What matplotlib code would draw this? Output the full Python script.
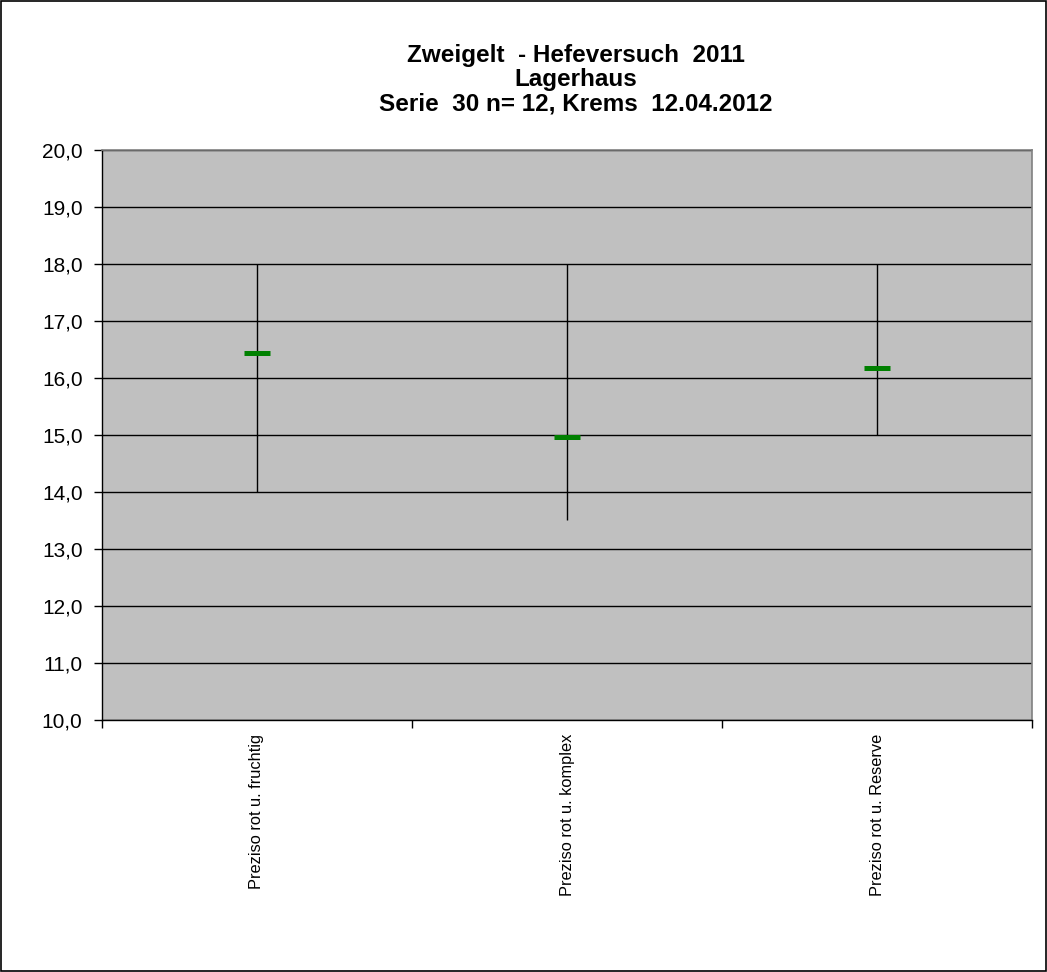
import matplotlib
matplotlib.use("Agg")
import matplotlib.pyplot as plt
from matplotlib.ticker import FuncFormatter, FixedLocator

categories = ["Preziso rot u. fruchtig", "Preziso rot u. komplex", "Preziso rot u. Reserve"]
means = [16.44, 14.97, 16.18]
mins = [14.0, 13.5, 15.0]
maxs = [18.0, 18.0, 18.0]
title_lines = ["Zweigelt  - Hefeversuch  2011", "Lagerhaus", "Serie  30 n= 12, Krems  12.04.2012"]

plt.rcParams['font.family'] = ['Liberation Sans', 'DejaVu Sans']
fig = plt.figure(figsize=(10.47, 9.72), dpi=100)
fig.patches.append(plt.Rectangle((0.001, 0.001), 0.998, 0.998, transform=fig.transFigure,
                                 fill=False, edgecolor='black', linewidth=1.2))
ax = fig.add_axes([0.0974, 0.2593, 0.8883, 0.5864])
ax.set_facecolor('#C0C0C0')

x = list(range(len(categories)))
ax.vlines(x, mins, maxs, color='black', linewidth=1, zorder=3)
ax.plot(x, means, linestyle='none', marker='_', markersize=18.5, markeredgewidth=3.6,
        color='#008000', zorder=4)

ax.set_xlim(-0.5, len(categories) - 0.5)
ax.set_ylim(10, 20)
ax.set_yticks([10 + i for i in range(11)])
ax.yaxis.set_major_formatter(FuncFormatter(lambda v, p: f"{v:.1f}".replace('.', ',')))
ax.yaxis.grid(True, color='black', linewidth=1)
ax.set_axisbelow(True)

ax.xaxis.set_major_locator(FixedLocator([-0.5, 0.5, 1.5, 2.5]))
ax.set_xticklabels([])
ax.xaxis.set_minor_locator(FixedLocator(x))
ax.set_xticklabels(categories, minor=True, rotation=90, fontsize=11.8)
ax.tick_params(axis='x', which='minor', length=0, pad=10)
ax.tick_params(axis='x', which='major', length=6, width=1, direction='out')
ax.tick_params(axis='y', length=6, width=1, direction='out', labelsize=15, pad=8)

for s in ['top', 'right']:
    ax.spines[s].set_color('#808080')
    ax.spines[s].set_linewidth(1.2)
for s in ['left', 'bottom']:
    ax.spines[s].set_color('black')
    ax.spines[s].set_linewidth(1)

cx = 576 / 1047
ys = [1 - 62 / 972, 1 - 86 / 972, 1 - 110 / 972]
for t, yy in zip(title_lines, ys):
    fig.text(cx, yy, t, ha='center', va='baseline', fontsize=17.5, fontweight='bold')

fig.savefig('out.png', dpi=100)
